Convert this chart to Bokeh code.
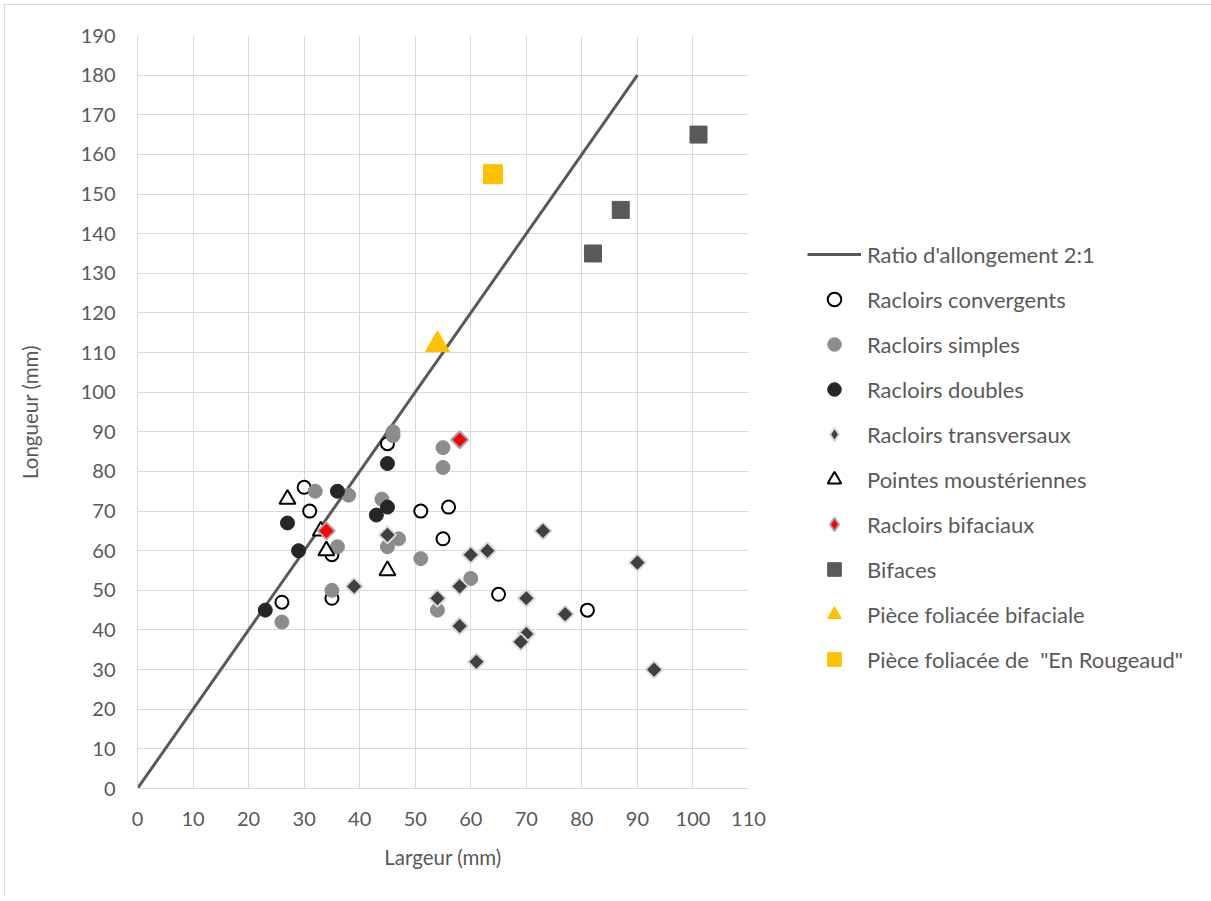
import numpy as np
from bokeh.plotting import figure
from bokeh.models import Range1d, SingleIntervalTicker, Legend, LegendItem
from bokeh.embed import file_html
from bokeh.resources import INLINE

# ---- data ----
ratio_x = [0, 90]
ratio_y = [0, 180]

conv_x = [45, 30, 31, 51, 56, 55, 35, 35, 26, 65, 81]
conv_y = [87, 76, 70, 70, 71, 63, 59, 48, 47, 49, 45]

simp_x = [46, 46, 55, 55, 32, 38, 44, 47, 45, 36, 51, 35, 26, 60, 54]
simp_y = [90, 89, 86, 81, 75, 74, 73, 63, 61, 61, 58, 50, 42, 53, 45]

doub_x = [45, 36, 45, 43, 27, 29, 23]
doub_y = [82, 75, 71, 69, 67, 60, 45]

trans_x = [45, 39, 60, 63, 73, 90, 58, 54, 58, 70, 77, 70, 69, 61, 93]
trans_y = [64, 51, 59, 60, 65, 57, 51, 48, 41, 48, 44, 39, 37, 32, 30]

point_x = [27, 33, 34, 45]
point_y = [73, 65, 60, 55]

bifrac_x = [58, 34]
bifrac_y = [88, 65]

biface_x = [82, 87, 101]
biface_y = [135, 146, 165]

fol_x = [54]
fol_y = [112]

roug_x = [64]
roug_y = [155]

labels = [
    "Ratio d'allongement 2:1",
    "Racloirs convergents",
    "Racloirs simples",
    "Racloirs doubles",
    "Racloirs transversaux",
    "Pointes moustériennes",
    "Racloirs bifaciaux",
    "Bifaces",
    "Pièce foliacée bifaciale",
    'Pièce foliacée de  "En Rougeaud"',
]

FONT = "Lato"
TXT = "#595959"
GRID = "#d9d9d9"

p = figure(frame_width=611, frame_height=753, output_backend="svg", toolbar_location=None,
           x_range=Range1d(0, 110), y_range=Range1d(0, 190),
           min_border_left=132, min_border_top=30, min_border_right=66,
           min_border_bottom=108)
p.styles = {"border-top": "1px solid #d9d9d9", "border-left": "1px solid #d9d9d9",
            "margin-left": "4px", "margin-top": "4px"}
p.outline_line_color = None
p.background_fill_color = "white"

p.xaxis.ticker = SingleIntervalTicker(interval=10)
p.yaxis.ticker = SingleIntervalTicker(interval=10)
for ax in (p.xaxis[0], p.yaxis[0]):
    ax.axis_line_color = GRID
    ax.axis_line_width = 1
    ax.major_tick_line_color = None
    ax.minor_tick_line_color = None
    ax.major_tick_out = 0
    ax.major_tick_in = 0
    ax.minor_tick_out = 0
    ax.minor_tick_in = 0
    ax.major_label_text_font = FONT
    ax.major_label_text_font_size = "20px"
    ax.major_label_text_color = TXT
    ax.axis_label_text_font = FONT
    ax.axis_label_text_font_size = "20.5px"
    ax.axis_label_text_font_style = "normal"
    ax.axis_label_text_color = TXT
p.xaxis.axis_label = "Largeur (mm)"
p.yaxis.axis_label = "Longueur (mm)"
p.xaxis.major_label_standoff = 23
p.yaxis.major_label_standoff = 22
p.xaxis.axis_label_standoff = 16
p.yaxis.axis_label_standoff = 36
p.xgrid.grid_line_color = GRID
p.ygrid.grid_line_color = GRID

r_line = p.line(ratio_x, ratio_y, line_color="#595959", line_width=3)
r_conv = p.scatter(conv_x, conv_y, marker="circle", size=13, fill_color="white",
                   line_color="black", line_width=2)
r_simp = p.scatter(simp_x, simp_y, marker="circle", size=14, fill_color="#8c8c8c",
                   line_color="#8c8c8c", line_width=1)
r_doub = p.scatter(doub_x, doub_y, marker="circle", size=14, fill_color="#262626",
                   line_color="#262626", line_width=1)
r_trans = p.scatter(trans_x, trans_y, marker="square", angle=np.pi / 4, size=12,
                    fill_color="#404040", line_color="#d9d9d9", line_width=2)
r_point = p.scatter(point_x, point_y, marker="triangle", size=16, fill_color="white",
                    line_color="black", line_width=2)
r_bifrac = p.scatter(bifrac_x, bifrac_y, marker="square", angle=np.pi / 4, size=12,
                     fill_color="#ff0000", line_color="#a6a6a6", line_width=2)
r_biface = p.scatter(biface_x, biface_y, marker="square", size=17, fill_color="#595959",
                     line_color="#595959", line_width=1)
r_fol = p.scatter(fol_x, fol_y, marker="triangle", size=24, fill_color="#ffc000",
                  line_color="#ffc000", line_width=1)
r_roug = p.scatter(roug_x, roug_y, marker="square", size=19, fill_color="#ffc000",
                   line_color="#ffc000", line_width=1)

# legend-only proxies (diamond shape, since legend glyphs ignore angle)
leg_trans = p.scatter([np.nan], [np.nan], marker="diamond", size=12,
                      fill_color="#404040", line_color="#d9d9d9", line_width=2)
leg_bifrac = p.scatter([np.nan], [np.nan], marker="diamond", size=12,
                       fill_color="#ff0000", line_color="#a6a6a6", line_width=2)

rends = [r_line, r_conv, r_simp, r_doub, leg_trans, r_point, leg_bifrac, r_biface, r_fol, r_roug]
legend = Legend(items=[LegendItem(label=l, renderers=[r]) for l, r in zip(labels, rends)],
                location=(59, 112))
legend.border_line_color = None
legend.background_fill_alpha = 0
legend.padding = 0
legend.margin = 0
legend.glyph_width = 54
legend.glyph_height = 34
legend.label_height = 34
legend.spacing = 11
legend.label_standoff = 6
legend.label_text_font = FONT
legend.label_text_font_size = "22px"
legend.label_text_color = TXT
p.add_layout(legend, "right")

open("out.html", "w").write(file_html(p, INLINE))
